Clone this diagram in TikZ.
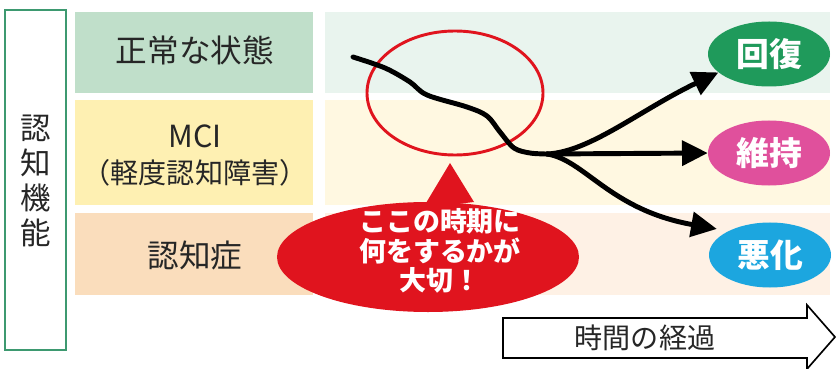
\documentclass[tikz,border=0pt]{standalone}
\usepackage{fontspec}
\setmainfont{Noto Sans CJK JP}
\usetikzlibrary{arrows.meta,shapes.geometric}
\definecolor{axisgreen}{HTML}{3D9970}
\definecolor{normdark}{HTML}{C0DFCA}
\definecolor{normlight}{HTML}{E9F4EE}
\definecolor{mcidark}{HTML}{FEF0B2}
\definecolor{mcilight}{HTML}{FFF8E1}
\definecolor{demdark}{HTML}{FADDBC}
\definecolor{demlight}{HTML}{FEF1E5}
\definecolor{alertred}{HTML}{E0141E}
\definecolor{recgreen}{HTML}{1F9A5B}
\definecolor{keeppink}{HTML}{E0509C}
\definecolor{worsecyan}{HTML}{1CA6DF}

\begin{document}
\begin{tikzpicture}[x=0.03cm, y=-0.03cm,
		curve/.style={line width=4.2pt, line cap=round, line join=round},
		branch/.style={curve, -{Triangle[length=22pt, width=21pt]}},
		outcome/.style={ellipse, minimum width=3.66cm, minimum height=1.95cm, inner sep=0pt, text=white, font=\fontsize{28}{30}\selectfont\bfseries},
		bandtext/.style={text=black!85, align=center}]
			%%%%% START %%%%%
			\useasboundingbox (0, 0) rectangle (836, 369);
			
			\draw[line width=1.8pt, color=axisgreen] (5, 10) rectangle (66, 350);
			\node[bandtext, font=\fontsize{26}{30}\selectfont] (axis) at (36, 181) {認\\知\\機\\能};
			
			\fill[normdark] (75, 12) rectangle (313, 93);
			\fill[normlight] (325, 12) rectangle (830, 93);
			\fill[mcidark] (75, 100) rectangle (313, 205);
			\fill[mcilight] (325, 100) rectangle (830, 205);
			\fill[demdark] (75, 213) rectangle (313, 295);
			\fill[demlight] (325, 213) rectangle (830, 295);
			
			\node[bandtext, font=\fontsize{27}{31}\selectfont] (norm) at (195, 50) {正常な状態};
			\node[bandtext, font=\fontsize{26}{31}\selectfont] (mci) at (195, 136) {MCI};
			\node[bandtext, font=\fontsize{24}{31}\selectfont] (mcisub) at (195, 173) {（軽度認知障害）};
			\node[bandtext, font=\fontsize{27}{31}\selectfont] (dem) at (195, 255) {認知症};
			
			\draw[line width=2.5pt, color=alertred] (455, 93) ellipse [x radius=88, y radius=62];
			
			\node[outcome, fill=recgreen] (rec) at (769, 54) {回復};
			\node[outcome, fill=keeppink] (kee) at (769, 153) {維持};
			\node[outcome, fill=worsecyan] (wor) at (770, 255) {悪化};
			
			\coordinate (start) at (353, 57);
			\coordinate (fork) at (547, 154);
			\draw[curve] plot[smooth, tension=0.55] coordinates {(start) (385, 68) (410, 82) (427, 95) (467, 107) (487, 116) (500, 132) (514, 148) (530, 153) (fork)};
			\draw[branch] (fork) .. controls (590, 152) and (640, 110) .. (rec.200);
			\draw[branch] (fork) -- (kee.west);
			\draw[branch, shorten >=10pt] (fork) .. controls (585, 160) and (610, 210) .. (wor.150);
			
			\fill[alertred] (423, 208) -- (450, 163) -- (474, 202) -- cycle;
			\node[ellipse, fill=alertred, minimum width=9.06cm, minimum height=3.3cm] (callout) at (428, 257) {};
			\node[align=center, text=white, font=\fontsize{23}{25}\selectfont\bfseries] (calltext) at (440, 251) {ここの時期に\\何をするかが\\大切！};
			
			\draw[line width=1.4pt, line join=miter, fill=white] (503, 318) -- (807, 318) -- (807, 305) -- (835, 337) -- (807, 369) -- (807, 358) -- (503, 358) -- cycle;
			\node[bandtext, font=\fontsize{24}{26}\selectfont] (elapse) at (645, 338) {時間の経過};
			
			%%%%% END %%%%%
		\end{tikzpicture}
\end{document}
